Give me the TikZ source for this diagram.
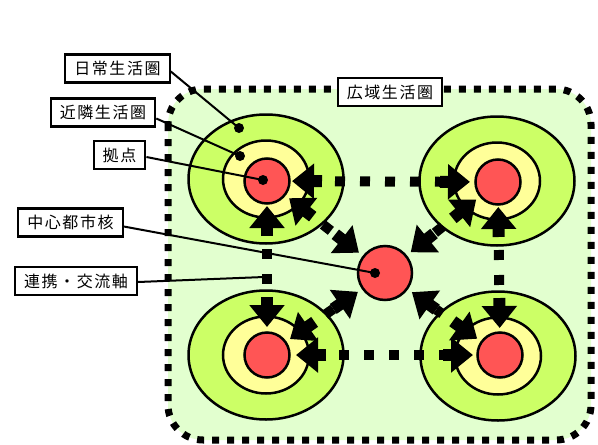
\documentclass[tikz,border=0pt]{standalone}
\usepackage{fontspec}
\newfontfamily\jp[LetterSpace=10]{Noto Sans CJK JP}
\usetikzlibrary{arrows.meta,calc}
\definecolor{bgg}{HTML}{E2FFCF}
\definecolor{outg}{HTML}{CCFF66}
\definecolor{midy}{HTML}{FFFF99}
\definecolor{cred}{HTML}{FF5555}
\begin{document}
\begin{tikzpicture}[x=1pt,y=-1pt,
  lbl/.style={draw, line width=2.2pt, fill=white, inner xsep=9pt, inner ysep=0pt, minimum height=28pt, font=\jp\fontsize{16pt}{18pt}\selectfont},
  core/.style={circle, draw, line width=2.5pt, fill=cred, inner sep=0pt, minimum size=45pt},
  bigcore/.style={circle, draw, line width=2.5pt, fill=cred, inner sep=0pt, minimum size=54pt},
  ring/.style={draw, line width=2.5pt},
  dots/.style={line width=10pt, dash pattern=on 10pt off 15pt, dash phase=12pt},
  stub/.style={line width=12pt, -{Triangle[length=22pt,width=34pt]}},
  leader/.style={line width=2pt},
  ldot/.style={fill=black}]
\useasboundingbox (0,0) rectangle (598,445);
% region
\draw[line width=7pt, dash pattern=on 7pt off 8pt, fill=bgg, rounded corners=35pt] (168,89) rectangle (591,440);
% rings
\foreach \cx/\cy in {266/179, 497/181, 266/355, 498/356}{
  \draw[ring, fill=outg] (\cx,\cy) ellipse [x radius=77.5pt, y radius=64.5pt];
  \draw[ring, fill=midy] (\cx,\cy) ellipse [x radius=43pt, y radius=38.5pt];
}
% cores
\node[core] (tl) at (267,181) {};
\node[core] (tr) at (498,182) {};
\node[core] (bl) at (267,355) {};
\node[core] (br) at (500,355) {};
\node[bigcore] (c) at (385,273) {};
% axes: A/B/tip distance at A/tip distance at B
\foreach \a/\b/\ta/\tb in {tl/tr/25/28, bl/br/29/27, tl/bl/25/28, tr/br/25/27, tl/c/28/33, tr/c/28/33, bl/c/28/33, br/c/28/33}{
  \draw[dots] ($(\a)!{(\ta+30)*1pt}!(\b)$) -- ($(\b)!{(\tb+30)*1pt}!(\a)$);
  \draw[stub] ($(\a)!{(\ta+30)*1pt}!(\b)$) -- ($(\a)!{\ta*1pt}!(\b)$);
  \draw[stub] ($(\b)!{(\tb+30)*1pt}!(\a)$) -- ($(\b)!{\tb*1pt}!(\a)$);
}
% labels
\node[lbl] (wide) at (390,92) {広域生活圏};
\node[lbl] (l1) at (117.5,68.5) {日常生活圏};
\node[lbl] (l2) at (103,112.5) {近隣生活圏};
\node[lbl] (l3) at (119.5,155) {拠点};
\node[lbl] (l4) at (70.5,222.5) {中心都市核};
\node[lbl] (l5) at (76,281) {連携・交流軸};
% leader targets
\coordinate (d1) at (239,128);
\coordinate (d2) at (240,156);
\coordinate (d3) at (263,180);
\coordinate (d4) at (375,273);
\coordinate (d5) at (264,277);
\draw[leader] ([yshift=-3pt]l1.east) -- (d1);
\draw[leader] ([yshift=-6pt]l2.east) -- (d2);
\draw[leader] ([yshift=-2pt]l3.east) -- (d3);
\draw[leader] ([yshift=-4pt]l4.east) -- (d4);
\draw[leader] ([yshift=-1pt]l5.east) -- (d5);
\foreach \d in {d1,d2,d3,d4}{\fill[ldot] (\d) circle (5pt);}
\end{tikzpicture}
\end{document}
